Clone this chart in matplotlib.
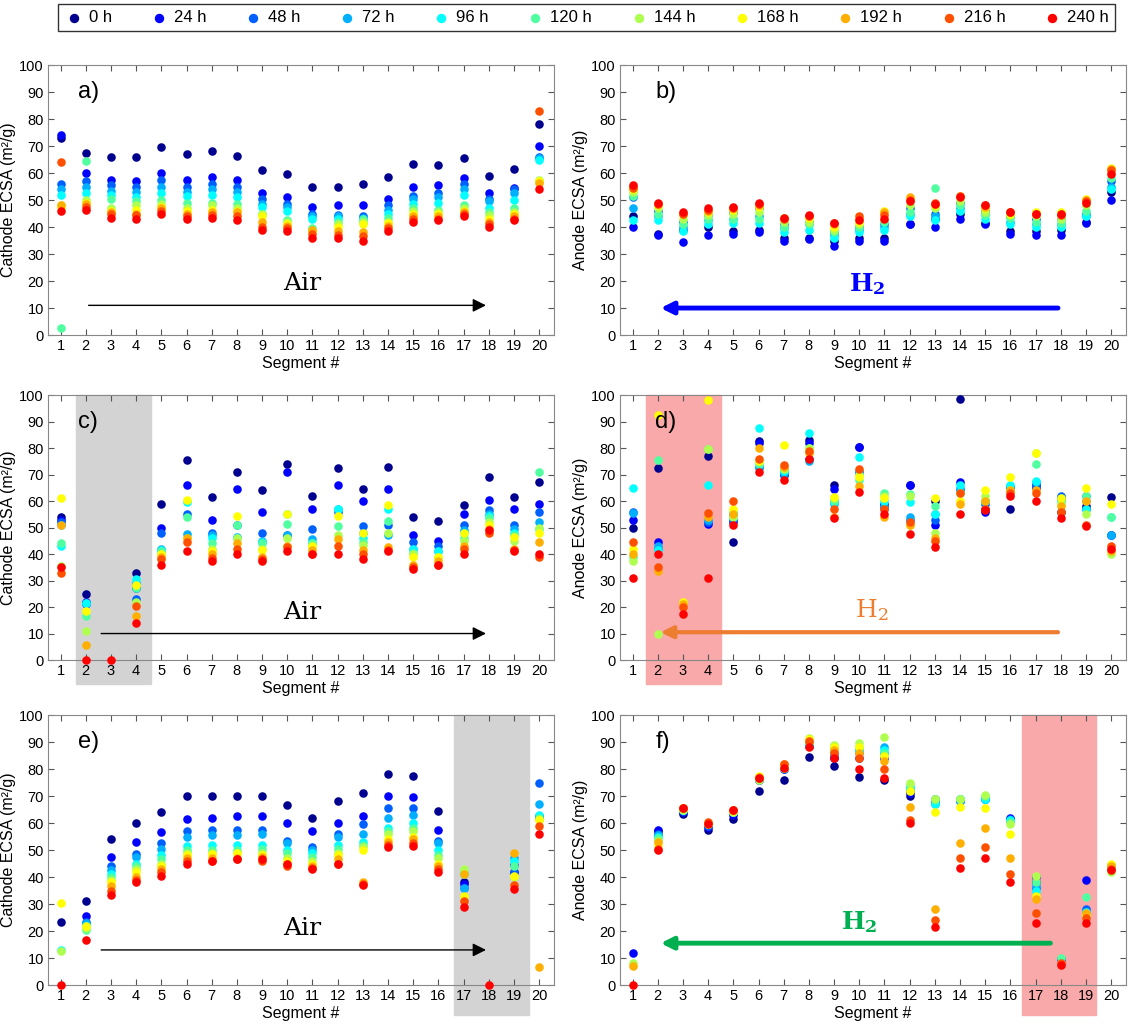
import matplotlib
matplotlib.use("Agg")
import matplotlib.pyplot as plt
import numpy as np

plt.rcParams['font.family'] = ['Liberation Sans', 'DejaVu Sans']
plt.rcParams['mathtext.fontset'] = 'dejavuserif'
nan = np.nan

segments = np.arange(1, 21)
hours = ["0 h", "24 h", "48 h", "72 h", "96 h", "120 h", "144 h", "168 h", "192 h", "216 h", "240 h"]
colors = ['#00008F', '#0000FF', '#0060FF', '#00AFFF', '#00FFFF', '#50FF9F',
          '#AFFF50', '#FFFF00', '#FFAF00', '#FF5000', '#FF0000']

a_vals = [
    [73,67.5,66,66,69.5,67,68,66.5,61,59.5,55,55,56,58.5,63.5,63,65.5,59,61.5,78],
    [74,60,57.5,57,60,57.5,58.5,57.5,52.5,51,47.5,48,48,50.5,55,55.5,58,52.5,54.5,70],
    [56,57,55.5,55,57.5,55,56,55,50.5,48.5,45,44.5,44,48,51.5,52.5,56,50.5,54,66],
    [54,55,53.5,53,55,53,54,53,48.5,47.5,44,44,43.5,46.5,50.5,51,54,49.5,52.5,65.5],
    [52,52.5,52,51,52.5,51.5,52,51,47.5,46,43,43,42,45,48.5,49,52,47,50,65],
    [2.5,64.5,50.5,49.5,50,49,49,48.5,45,42.5,39.5,42,43,43.5,47,46.5,48,45.5,47,57],
    [48,50,47,48,48.5,47,48,47,45,42,39,41,42,42,46,45.5,47,44.5,45.5,57.5],
    [47.5,49,46,46.5,47.5,46,46.5,46,44,41,38.5,40,41,41.5,45,45,46,43,45,57],
    [48,48.5,45.5,45,47,45,45.5,45.5,42,40.5,39,38.5,38,40.5,44,44,45.5,42,44,56.5],
    [64,47.5,45,44.5,46,44,44.5,44,40,39.5,37.5,37,36.5,39.5,43,43,45,41,43,83],
    [46,46.5,43.5,43,45,43,43.5,42.5,39,38.5,36,36,35,38.5,42,42.5,44,40,42.5,54],
]
b_vals = [
    [44,37.5,39,40,38.5,39,36,36,35,36,36,41,43,45,41.5,38.5,38.5,39,42,53],
    [40,37,34.5,37,37.5,38,35,35.5,33,35,35,41,40,43,41,37.5,37,37,41.5,50],
    [51,46,42,44.5,45.5,47,41,42,38,40,41,47,45,49,46,44,43,43,45,57],
    [47,44,40,42.5,43,44,39.5,41,37,39,40,45,44,47,45,42,41,41,44,55],
    [42.5,42.5,38.5,41,41.5,41.5,38,39,36,38,39,44,42.5,46,43,41,40,40,44,54],
    [51.5,45,41,43,43,43,40,41,38,40,42,45.5,54.5,48,44.5,43.5,42,41.5,46,58],
    [53,47,43,44.5,45,45.5,42,42,39,41,43,48,47,49.5,45.5,44.5,44,43,48,60],
    [54,48,45,45.5,46.5,47.5,43.5,43.5,40,42,46,50.5,48,51,47,45,45.5,45.5,50.5,62],
    [55,48.5,45,46,47,48,43.5,44,41,43,45.5,51,48.5,51.5,47.5,45.5,45,45,50,61.5],
    [54.5,48.5,45,46.5,47,48.5,43,44,41.5,44,44.5,50,49,51.5,48,45.5,45,44.5,49.5,61],
    [55.5,49,45.5,47,47.5,49,43.5,44.5,41.5,42.5,43,49.5,48.5,51,48,45.5,45,45,49,59.5],
]
c_vals = [
    [54,25,nan,33,59,75.5,61.5,71,64,74,62,72.5,64.5,73,54,52.5,58.5,69,61.5,67],
    [53,22,nan,27,50,66,53,64.5,56,71,57,66,60,64.5,47,45,55,60.5,57,59],
    [52,21,nan,23,48,55,48,51,48,47,49.5,56,50.5,51,44.5,43,51,56.5,51,56],
    [51,21.5,nan,29,42,47.5,47,46.5,45,47,45.5,57,48,47,42,41,49,55,49.5,52],
    [43,21.5,nan,30.5,41.5,59.5,46,46,44.5,55,44,57,46,57,42,41,48,54.5,48,49.5],
    [44,16.5,nan,27,41,54,44,51,44,51.5,44,50.5,44.5,52.5,40.5,39,46,53.5,47,71],
    [35.5,11,nan,22,40,46,42,46,42,46,43,47,43.5,48,40,39,45,52,45,50],
    [61,18.5,nan,28.5,40,60.5,41,54.5,41.5,55,43,54.5,48,58.5,39,39,48,51,46.5,48],
    [51,5.5,nan,16.5,39,46,40,44,39,43,41.5,45.5,41.5,42.5,36,37.5,43,49.5,42,44.5],
    [33,nan,nan,20.5,38,44.5,38.5,42,38,42.5,40,43,40,41.5,35,36,42,48,41.5,39],
    [35,0,0,14,36,41,37.5,40,37.5,41,40,40,38,41,34.5,36,40,49,41,40],
]
d_vals = [
    [50,72.5,nan,77,44.5,82.5,72,83,66,80.5,58,66,60,98.5,57,57,66,56,58,61.5],
    [53,44.5,nan,51.5,52,82,70,82,64.5,80.5,59,66,51,67,56,65,65,61,57,47],
    [56,42,nan,52,53,73,70,76,60,71,57,53,53,64,59,65,66,62,62,47],
    [55.5,43,nan,53,55,72.5,70.5,75,59,71,58,54,55,65,60,65.5,67,61,60,47],
    [65,41.5,nan,66,54,87.5,71.5,85.5,59.5,76.5,60,59.5,55,66,60,66,67.5,60,57,54],
    [39,75.5,nan,79.5,56,74,72,80,60,68,63,62.5,58,63,60,63,74,60,62,54],
    [37.5,10,nan,79.5,54,75,72,80,61,70,62,62,48,63,62,64,78,59,55,40],
    [42,92.5,22,98,57,75,81,79,61.5,69,61,51,61,60,64,69,78,61,65,59],
    [40,33.5,21,54,55,80,73,78,54,65.5,54,51,46,59,60,64,64,58,60,41],
    [44.5,35,20,55.5,60,76,73.5,79,57,72,57,52,45,63,57,63,63,56,51,43],
    [31,40,17.5,31,51,71,68,76,53.5,63.5,55,47.5,42.5,55,56.5,62,60,53.5,50.5,42],
]
e_vals = [
    [23.5,31,54,60,64,70,70,70,70,66.5,62,68,71,78,77.5,64.5,38,nan,42,62],
    [nan,25.5,47.5,53,56.5,61.5,62,62.5,62.5,60,57,60,62.5,70,69.5,57.5,37.5,nan,44.5,62.5],
    [nan,23.5,44,48.5,52.5,57,57.5,57.5,57.5,53.5,51,56,59.5,65.5,65.5,53.5,36,nan,42,75],
    [nan,23,42.5,47.5,50.5,55,55.5,55.5,56,52.5,50,55,56,62,63,52.5,36,nan,47,67],
    [13,22,41,45,48,51.5,52,52,52,50,49,52,53,58,60,50,41,nan,46,63],
    [nan,20.5,40,44,46.5,50,50,50,50.5,49,47.5,50.5,52,57,58,48,42,nan,44,62],
    [12.5,21,39,43,45,49,49,49,49,47,46,49,51,56,57,47,43,nan,40,61.5],
    [30.5,22,38,42,44,48,48.5,49,48,46,45,48,50,54,55,45,33,nan,40.5,61],
    [nan,nan,36.5,40,43,47,47,47,47.5,45,44,46.5,38,53,54,44,41,nan,49,6.5],
    [nan,nan,35,39,42,46,46,46.5,46,44,43.5,45,37.5,52,52.5,43,31,nan,37,59],
    [0,16.5,33.5,38,40.5,45,46,46.5,46.5,45,43,45,37,51,51.5,42,29,0,35.5,56],
]
f_vals = [
    [nan,57,63.5,57.5,61.5,72,76,84.5,81,77,76,70,nan,nan,nan,nan,38,nan,nan,nan],
    [12,57.5,64,58.5,63,76,80,88.5,84,84,84,71,69,68,69,62,40,9.5,39,44],
    [nan,56,64.5,59,64,76,80,88.5,85,86,86,72,68,69,69,61.5,36,nan,28,44.5],
    [nan,55.5,65,59.5,64,76.5,80.5,89,86,87,88,73,67,68,69,61,36.5,nan,27,44.5],
    [nan,55,65,59.5,64,76.5,80.5,89,87,87,87,73,67,69,69,61,35,nan,27,44],
    [nan,54.5,65,59.5,64,76.5,80.5,90,88,88,86,74,69,69,70,60.5,38,10,32.5,43],
    [8,53.5,65,59.5,64,76,80.5,91.5,89,89.5,92,75,69,69,70.5,59.5,40.5,nan,26,42],
    [nan,52,65.5,59.5,64.5,77.5,81,91,88,88,85,72,64,66,65.5,56,33,nan,26,45],
    [7,53,65.5,60,65,77,82,90,87,86,83,66,28,52.5,58,47,32,nan,26.5,44],
    [nan,50.5,65.5,60.5,65,76.5,82,90.5,86,84,80,61,24,47,51,41,26.5,8,25,43],
    [0,50,65.5,59.5,65,76.5,80.5,88,84,80,76.5,60,21.5,43.5,47,38,23,7.5,23,42.5],
]

fig = plt.figure(figsize=(11.3, 10.36), dpi=100)
lx, rx, w = 0.0425, 0.5487, 0.448
rows = [(0.6766, 0.2606), (0.3629, 0.2558), (0.0492, 0.2606)]

panels = [
    ("a)", a_vals, "Cathode ECSA (m\u00b2/g)", 0, 0),
    ("b)", b_vals, "Anode ECSA (m\u00b2/g)", 0, 1),
    ("c)", c_vals, "Cathode ECSA (m\u00b2/g)", 1, 0),
    ("d)", d_vals, "Anode ECSA (m\u00b2/g)", 1, 1),
    ("e)", e_vals, "Cathode ECSA (m\u00b2/g)", 2, 0),
    ("f)", f_vals, "Anode ECSA (m\u00b2/g)", 2, 1),
]

axes = {}
for label, vals, ylab, r, c in panels:
    bottom, h = rows[r]
    ax = fig.add_axes([lx if c == 0 else rx, bottom, w, h])
    axes[label] = ax
    for i, series in enumerate(vals):
        ax.scatter(segments, series, s=38, color=colors[i], label=hours[i],
                   zorder=3, linewidths=0, clip_on=False)
    ax.set_xlim(0.5, 20.6)
    ax.set_ylim(0, 100)
    ax.set_xticks(segments)
    ax.set_yticks(np.arange(0, 101, 10))
    ax.tick_params(direction='in', top=True, right=True, labelsize=10.5, color='#555555', length=4, pad=3)
    for sp in ax.spines.values():
        sp.set_color('#888888')
    ax.set_xlabel("Segment #", fontsize=11.5, labelpad=2)
    ax.set_ylabel(ylab, fontsize=11.5, labelpad=2)
    ax.text(0.06 if c == 0 else 0.07, 0.9, label, transform=ax.transAxes, fontsize=17, va='center')

# shaded failed segments
axes["c)"].axvspan(1.6, 4.6, ymin=-0.09, ymax=1.0, color='#d3d3d3', zorder=0, clip_on=False)
axes["e)"].axvspan(16.6, 19.6, ymin=-0.11, ymax=1.0, color='#d3d3d3', zorder=0, clip_on=False)
axes["d)"].axvspan(1.55, 4.5, ymin=-0.09, ymax=1.0, color='#f9a9a9', zorder=0, clip_on=False)
axes["f)"].axvspan(16.45, 19.4, ymin=-0.11, ymax=1.0, color='#f9a9a9', zorder=0, clip_on=False)

def flow(ax, x0, x1, y, col, lw, txt, ty, tx, bold):
    ax.annotate("", xy=(x1, y), xytext=(x0, y),
                arrowprops=dict(arrowstyle='-|>', color=col, lw=lw,
                                mutation_scale=20 if lw < 2 else 18), zorder=4)
    ax.text(tx, ty, txt, color=col, fontsize=18, ha='center', va='center',
            family='DejaVu Serif', fontweight='bold' if bold else 'normal')

flow(axes["a)"], 2, 18, 11, 'black', 1, "Air", 19, 10.6, False)
flow(axes["b)"], 18, 2, 10, '#0000FF', 3.5, r"$\mathbf{H_2}$", 19, 10.3, True)
flow(axes["c)"], 2.5, 18, 10, 'black', 1, "Air", 18, 10.6, False)
flow(axes["d)"], 18, 2, 10.5, '#ED7D31', 3, r"$\mathrm{H_2}$", 19, 10.5, False)
flow(axes["e)"], 2.5, 18, 13, 'black', 1, "Air", 21, 10.6, False)
flow(axes["f)"], 17.7, 2, 15.5, '#00B050', 3.5, r"$\mathbf{H_2}$", 23.5, 10, True)

handles, labels = axes["a)"].get_legend_handles_labels()
fig.legend(handles, labels, loc='center', bbox_to_anchor=(0.519, 0.983), ncol=11,
           fontsize=12, frameon=True, edgecolor='black', fancybox=False,
           handletextpad=0.3, columnspacing=2.2, markerscale=1.1, borderpad=0.35,
           handlelength=1.2)

fig.savefig("out.png", dpi=100)
